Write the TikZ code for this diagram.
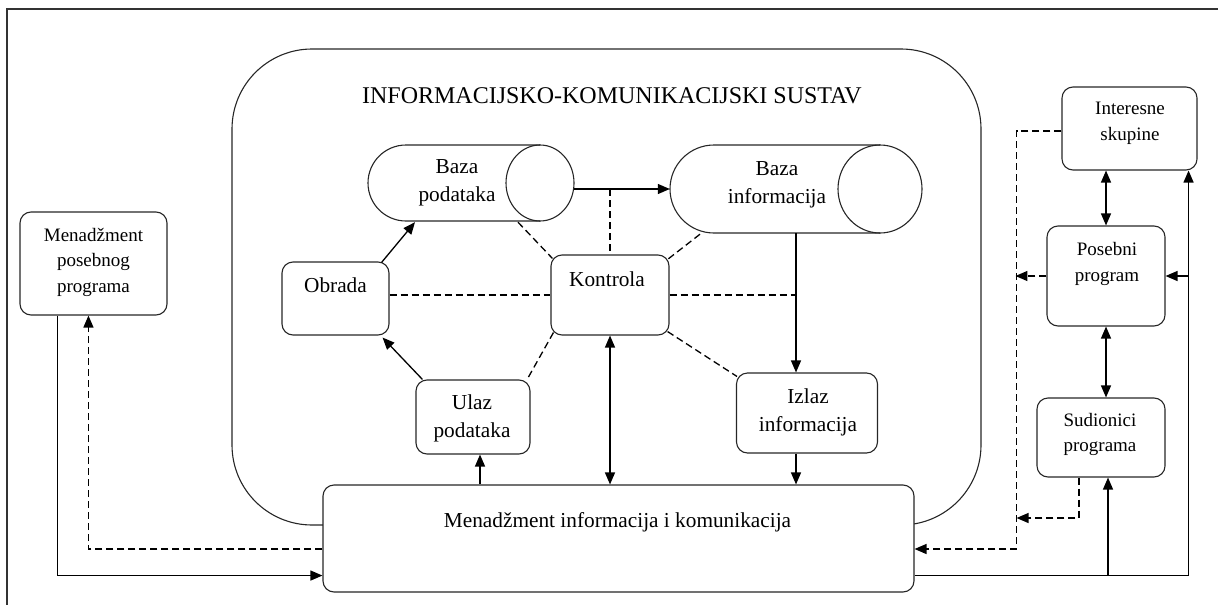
\documentclass[tikz,border=0pt]{standalone}
\usepackage{fontspec}
\setmainfont{Liberation Serif}
\usetikzlibrary{arrows.meta,calc}
\begin{document}
\begin{tikzpicture}[x=1pt,y=-1pt,
  ln/.style={line width=1.1pt, draw=black!85},
  cn/.style={line width=1.3pt, draw=black},
  bx/.style n args={2}{ln, rounded corners=11pt, inner sep=0pt, minimum width=#1pt, minimum height=#2pt},
  ghost/.style n args={2}{inner sep=0pt, minimum width=#1pt, minimum height=#2pt},
  txt/.style={align=center, font=\fontsize{21.3}{28}\selectfont, inner sep=0pt},
  txs/.style={align=center, font=\fontsize{19}{25.5}\selectfont, inner sep=0pt},
  ttl/.style={font=\fontsize{24}{28}\selectfont, inner sep=0pt},
  arr/.style={cn, -{Triangle[length=12pt,width=10pt]}},
  darr/.style={cn, {Triangle[length=12pt,width=10pt]}-{Triangle[length=12pt,width=10pt]}},
  dsh/.style={dash pattern=on 7pt off 4pt}
]
\useasboundingbox (0,0) rectangle (1218,605);
% frame
\draw[line width=1.3pt, draw=black!80] (1218,9) -- (7,9) -- (7,605);

% container
\draw[ln, rounded corners=80pt] (232,49) rectangle (981,525);
\node[ttl] (title) at (612,96) {INFORMACIJSKO-KOMUNIKACIJSKI SUSTAV};

% cylinders
\node[ghost={206}{76}] (bp) at (471,183) {};
\draw[ln] (540,145) -- (406,145) arc[start angle=90, end angle=270, radius=38pt] -- (540,221);
\draw[ln] (540,183) ellipse [x radius=34pt, y radius=38pt];
\node[txt] (bpt) at (457,183) {Baza\\podataka};

\node[ghost={252}{88}] (bi) at (796,189) {};
\draw[ln] (880,145) -- (714,145) arc[start angle=90, end angle=270, radius=44pt] -- (880,233);
\draw[ln] (880,189) ellipse [x radius=42pt, y radius=44pt];
\node[txt] (bit) at (777,184.5) {Baza\\informacija};

% boxes
\node[bx={147}{103}] (mpp) at (93.5,263.5) {};
\node[txs] (mppt) at (93.5,262) {Menadžment\\posebnog\\programa};

\node[bx={118}{80}] (kon) at (610,295) {};
\node[txt] (kont) at (607,279) {Kontrola};

\node[bx={107}{73}] (obr) at (335.5,298.5) {};
\node[txt] (obrt) at (335.5,285) {Obrada};

\node[bx={114}{74}] (ulaz) at (473,417) {};
\node[txt] (ulazt) at (472,418) {Ulaz\\podataka};

\node[bx={141}{80}] (izl) at (807,413) {};
\node[txt] (izlt) at (808,412) {Izlaz\\informacija};

\node[bx={591}{107}, fill=white] (mik) at (618.5,538.5) {};
\node[txt] (mikt) at (617.5,522) {Menadžment informacija i komunikacija};

\node[bx={135}{83}] (isk) at (1129.5,128.5) {};
\node[txs] (iskt) at (1130,123.5) {Interesne\\skupine};

\node[bx={118}{100}] (pos) at (1106,276) {};
\node[txs] (post) at (1107,264) {Posebni\\program};

\node[bx={128}{79}] (sud) at (1101,437.5) {};
\node[txs] (sudt) at (1100,434.5) {Sudionici\\programa};

% inner connectors
\draw[arr] ($(obr.north east)+(-8,1)$) -- ($(bp.south)+(-56,1)$);
\draw[arr] (bi.west -| bp.east) -- (bi.west);
\draw[cn,dsh] (kon.north |- bi.west) -- (kon.north);
\draw[cn,dsh] ($(bp.south)+(47,1)$) -- ($(kon.north west)+(2,4)$);
\draw[cn,dsh] ($(bi.south)+(-96,1)$) -- ($(kon.north east)+(-2,5)$);
\draw[cn,dsh] (kon.west -| obr.east) -- (kon.west);
\draw[cn,dsh] (kon.east) -- (kon.east -| bi.south);
\draw[arr] (bi.south) -- (bi.south |- izl.north);
\draw[arr] (izl.south -| bi.south) -- (mik.north -| bi.south);
\draw[cn,dsh] ($(kon.south east)+(-2,-4)$) -- ($(izl.north west)+(1,4)$);
\draw[cn,dsh] ($(kon.south west)+(3,-3)$) -- ($(ulaz.north east)+(-4,1)$);
\draw[arr] ($(ulaz.north west)+(7,0)$) -- ($(obr.south east)+(-7,2)$);
\coordinate (ux) at ($(ulaz.south)+(7,0)$);
\draw[arr] (ux |- mik.north) -- (ux);
\draw[darr] (kon.south) -- (kon.south |- mik.north);

% left connectors
\coordinate (lb) at ($(mik.south west)+(0,-17)$);
\coordinate (mx) at ($(mpp.south west)+(38,0)$);
\draw[arr] (mx) |- (lb);
\coordinate (dx) at ($(mpp.south west)+(69,0)$);
\draw[arr,dsh] ($(mik.west)+(0,10.5)$) -| (dx);

% right connectors
\coordinate (rb) at ($(mik.south east)+(0,-17)$);
\coordinate (rv) at ($(isk.south east)+(-9,0)$);
\draw[arr] (rb) -| (rv);
\coordinate (sx) at ($(sud.south)+(7,0)$);
\draw[arr] (sx |- rb) -- (sx);
\draw[arr] (rv |- pos.east) -- (pos.east);
\draw[darr] (pos.north |- isk.south) -- (pos.north);
\draw[darr] (pos.south) -- (pos.south |- sud.north);
\draw[arr,dsh] ($(isk.west)+(0,2.5)$) -| ($(mik.east)+(102,10.5)$) -- ($(mik.east)+(0,10.5)$);
\draw[arr,dsh] (pos.west) -- ++(-31,0);
\draw[arr,dsh] ($(sud.south)+(-22,0)$) |- ($(mik.east)+(102,-20.5)$);
\end{tikzpicture}
\end{document}
